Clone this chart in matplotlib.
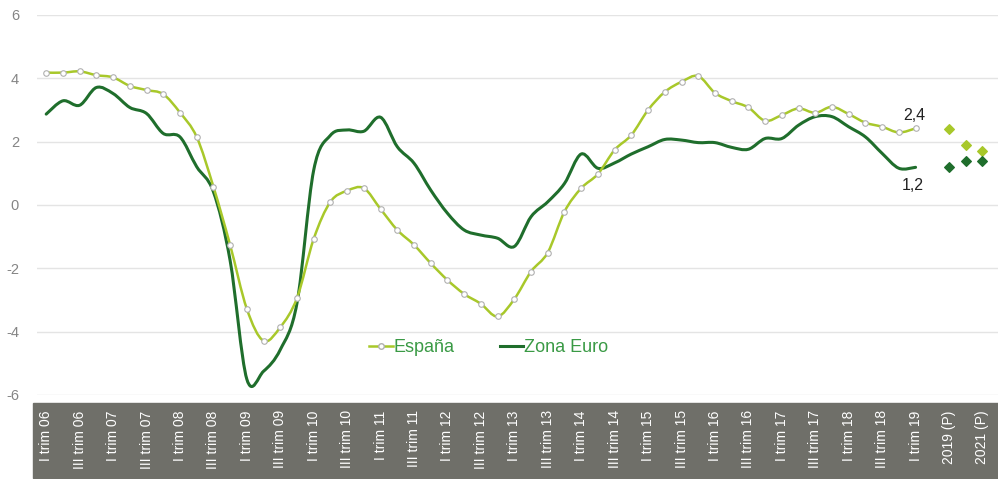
import numpy as np
import matplotlib.pyplot as plt
from matplotlib.patches import Rectangle, PathPatch
from matplotlib.path import Path
from matplotlib.lines import Line2D

plt.rcParams['font.family'] = ['Liberation Sans', 'DejaVu Sans']
plt.rcParams['axes.unicode_minus'] = False

# quarterly values, I trim 06 .. I trim 19
espana = [4.18, 4.18, 4.22, 4.10, 4.03, 3.76, 3.63, 3.50, 2.92, 2.15,
          0.58, -1.26, -3.28, -4.29, -3.86, -2.94, -1.07, 0.10, 0.45, 0.53,
          -0.13, -0.79, -1.26, -1.84, -2.37, -2.81, -3.12, -3.52, -2.97, -2.10,
          -1.50, -0.21, 0.53, 0.98, 1.74, 2.21, 3.00, 3.57, 3.89, 4.07,
          3.54, 3.28, 3.08, 2.66, 2.84, 3.05, 2.91, 3.10, 2.87, 2.60,
          2.47, 2.29, 2.42]
zona_euro = [2.87, 3.29, 3.15, 3.71, 3.52, 3.08, 2.89, 2.26, 2.15, 1.21,
             0.42, -1.75, -5.50, -5.25, -4.57, -3.10, 1.10, 2.20, 2.37, 2.33,
             2.77, 1.84, 1.32, 0.47, -0.26, -0.79, -0.95, -1.05, -1.31, -0.37,
             0.10, 0.68, 1.61, 1.16, 1.33, 1.61, 1.84, 2.07, 2.05, 1.97,
             1.97, 1.82, 1.76, 2.10, 2.10, 2.52, 2.79, 2.79, 2.47, 2.15,
             1.63, 1.16, 1.19]
# forecasts 2019 (P), 2020 (P), 2021 (P)
espana_prev = [2.4, 1.9, 1.7]
zona_euro_prev = [1.2, 1.4, 1.4]

quarters = []
for yy in range(6, 20):
    for q in ['I', 'II', 'III', 'IV']:
        quarters.append('%s trim %02d' % (q, yy))
quarters = quarters[:53]
categories = quarters + ['', '2019 (P)', '2020 (P)', '2021 (P)']

light = '#a8c82a'
dark = '#1f6e2c'


def smooth_path(x, y, t=1 / 6.):
    # excel-like smoothed line: catmull-rom segments as cubic beziers
    x = np.asarray(x, float)
    y = np.asarray(y, float)
    verts = [(x[0], y[0])]
    codes = [Path.MOVETO]
    n = len(x)
    for i in range(n - 1):
        p0 = i - 1 if i > 0 else i
        p3 = i + 2 if i + 2 < n else i + 1
        c1 = (x[i] + (x[i + 1] - x[p0]) * t, y[i] + (y[i + 1] - y[p0]) * t)
        c2 = (x[i + 1] - (x[p3] - x[i]) * t, y[i + 1] - (y[p3] - y[i]) * t)
        verts += [c1, c2, (x[i + 1], y[i + 1])]
        codes += [Path.CURVE4] * 3
    return Path(verts, codes)


fig = plt.figure(figsize=(9.98, 4.79), dpi=100)
ax = fig.add_axes([37 / 998, 84 / 479, 961 / 998, 380 / 479])

x_q = np.arange(len(quarters))
x_p = np.arange(54, 57)

ax.add_patch(PathPatch(smooth_path(x_q, zona_euro), fill=False, edgecolor=dark,
                       lw=2.2, zorder=3, capstyle='round', joinstyle='round'))
ax.add_patch(PathPatch(smooth_path(x_q, espana), fill=False, edgecolor=light,
                       lw=1.8, zorder=4, capstyle='round', joinstyle='round'))
ax.plot(x_q, espana, ls='none', marker='o', ms=4,
        mfc='white', mec='#b0b0b0', mew=0.8, zorder=5)
ax.scatter(x_p, espana_prev, marker='D', s=24, color=light, zorder=4)
ax.scatter(x_p, zona_euro_prev, marker='D', s=24, color=dark, zorder=4)

ax.annotate('2,4', (52, espana[-1]), xytext=(-1, 4), textcoords='offset points',
            fontsize=11.5, color='#222222', ha='center', va='bottom')
ax.annotate('1,2', (52, zona_euro[-1]), xytext=(-2, -8), textcoords='offset points',
            fontsize=11.5, color='#222222', ha='center', va='top')

ax.set_ylim(-6, 6)
ax.set_yticks(range(-6, 7, 2))
ax.set_xlim(-0.55, 56.93)
ax.grid(axis='y', color='#e4e4e4', lw=1)
ax.set_axisbelow(True)
for s in ax.spines.values():
    s.set_visible(False)
ax.tick_params(axis='y', length=0, pad=13, labelsize=10.5, labelcolor='#858585')

tick_pos = list(range(0, 57, 2))
ax.set_xticks(tick_pos)
ax.set_xticklabels([categories[i] for i in tick_pos], rotation=90,
                   color='white', fontsize=10, va='top', ha='center')
ax.tick_params(axis='x', length=0, pad=11)

fig.patches.append(Rectangle((33 / 998, 1 / 479), 965 / 998, 75 / 479,
                             transform=fig.transFigure, color='#6f6f69', zorder=-1))

handles = [Line2D([], [], color=light, lw=1.8, marker='o', ms=4, mfc='white', mec='#b0b0b0'),
           Line2D([], [], color=dark, lw=2.2)]
leg = ax.legend(handles, ['España', 'Zona Euro'], loc='center', bbox_to_anchor=(0.47, 0.124),
                ncol=2, frameon=False, fontsize=13, handlelength=1.3, handletextpad=0.05,
                columnspacing=2.5)
for t in leg.get_texts():
    t.set_color('#3a9a45')

fig.savefig('out.png', dpi=100)
